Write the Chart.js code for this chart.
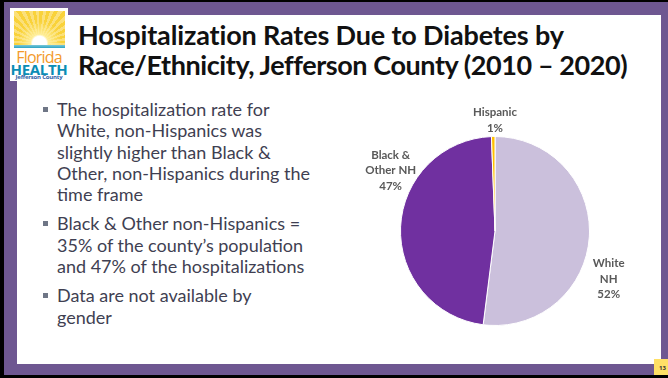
<!DOCTYPE html>
<html>
<head>
<meta charset="utf-8">
<script src="https://cdn.jsdelivr.net/npm/chart.js@4.4.0/dist/chart.umd.min.js"></script>
<style>
  html, body { margin: 0; padding: 0; }
  body { width: 668px; height: 378px; background: #000; position: relative; overflow: hidden; font-family: Lato, "Open Sans", sans-serif; }
  .frame { position: absolute; left: 4px; top: 2px; width: 664px; height: 373px; background: #6E5791; }
  .slide { position: absolute; left: 17px; top: 15px; width: 644px; height: 349px; background: #fff; }
  .logo { position: absolute; left: 10px; top: 8px; width: 58px; height: 73px; background: #fff; }
  .sun { position: absolute; left: 4px; top: 3px; width: 51px; height: 34px; overflow: hidden;
    background:
      radial-gradient(circle at 50% 95%, #fff 0 7px, rgba(255,240,160,0.9) 9px, rgba(255,220,90,0) 22px),
      repeating-conic-gradient(from 0deg at 50% 95%, #F9D23A 0 6deg, #FBE07A 6deg 12deg); }
  .sea { position: absolute; left: 4px; top: 37px; width: 51px; height: 3px; background: linear-gradient(#7CC8D8, #2AA3C4); }
  .florida { position: absolute; left: 0; width: 58px; top: 38px; text-align: center; color: #F39A2B; font: 16px "Open Sans", sans-serif; letter-spacing: -0.8px; }
  .health { position: absolute; left: 0; width: 58px; top: 51px; text-align: center; color: #0B8DB5; font: bold 15px "Liberation Sans Narrow", "Open Sans", sans-serif; letter-spacing: -0.3px; }
  .county { position: absolute; left: 0; width: 58px; top: 65px; text-align: center; color: #2E5FA6; font: bold 6px "Open Sans", sans-serif; letter-spacing: -0.2px; }
  .title { position: absolute; left: 78px; top: 20px; font: bold 27px Lato, sans-serif; line-height: 30px; color: #111; letter-spacing: -0.15px; white-space: nowrap; }
  .title span { letter-spacing: -0.42px; }
  .bullets { position: absolute; left: 57px; top: 99px; width: 290px; color: #3F3F52; font: 18px Lato, sans-serif; line-height: 21.3px; }
  .bullets p { margin: 0 0 8px 0; position: relative; white-space: nowrap; }
  .bullets p::before { content: ""; position: absolute; left: -14px; top: 8px; width: 5px; height: 5px; background: #6F7686; }
  .chart-box { position: absolute; left: 340px; top: 100px; width: 310px; height: 262px; }
  .page { position: absolute; left: 654px; top: 359px; width: 14px; height: 16px; background: #FFE066; font: bold 6px "Open Sans", sans-serif; color: #333; padding: 5px 0 0 5px; box-sizing: border-box; }
</style>
</head>
<body>
<div class="frame"></div>
<div class="slide"></div>
<div class="logo">
  <div class="sun"></div>
  <div class="sea"></div>
  <div class="florida">Florida</div>
  <div class="health">HEALTH</div>
  <div class="county">Jefferson County</div>
</div>
<div class="title">Hospitalization Rates Due to Diabetes by<br><span>Race/Ethnicity, Jefferson County (2010 – 2020)</span></div>
<div class="bullets">
  <p>The hospitalization rate for<br>White, non-Hispanics was<br>slightly higher than Black &amp;<br>Other, non-Hispanics during the<br>time frame</p>
  <p>Black &amp; Other non-Hispanics =<br>35% of the county’s population<br>and 47% of the hospitalizations</p>
  <p>Data are not available by<br>gender</p>
</div>
<div class="chart-box"><canvas id="pie"></canvas></div>
<div class="page">13</div>
<script>
  // share of hospitalizations
  var categories = [['White', 'NH'], ['Black &', 'Other NH'], ['Hispanic']];
  var shares = [52.0, 47.4, 0.6];
  var sliceColors = ['#CBC0DC', '#7030A0', '#FFC000'];

  // where each label sits: angle clockwise from 12 o'clock, distance past the rim
  var labelSpots = [
    { angle: 113, extra: 29 },
    { angle: 300, extra: 26 },
    { angle: 0, extra: 16 }
  ];

  var outsideLabels = {
    id: 'outsideLabels',
    afterDatasetsDraw: function (chart) {
      var ctx = chart.ctx;
      var meta = chart.getDatasetMeta(0);
      var data = chart.data.datasets[0].data;
      var total = data.reduce(function (a, b) { return a + b; }, 0);
      ctx.save();
      ctx.font = 'bold 11.5px Lato, sans-serif';
      ctx.fillStyle = '#595959';
      ctx.textAlign = 'center';
      ctx.textBaseline = 'middle';
      meta.data.forEach(function (arc, i) {
        var spot = labelSpots[i];
        var a = (spot.angle - 90) * Math.PI / 180;
        var r = arc.outerRadius + spot.extra;
        var x = arc.x + Math.cos(a) * r;
        var y = arc.y + Math.sin(a) * r;
        var lines = [].concat(chart.data.labels[i]);
        lines.push(Math.round(data[i] / total * 100) + '%');
        var lh = 15.5;
        var y0 = y - (lines.length - 1) * lh / 2;
        lines.forEach(function (t, j) {
          ctx.fillText(t, x, y0 + j * lh);
        });
      });
      ctx.restore();
    }
  };

  new Chart(document.getElementById('pie'), {
    type: 'pie',
    data: {
      labels: categories,
      datasets: [{
        data: shares,
        backgroundColor: sliceColors,
        borderColor: '#fff',
        borderWidth: 1
      }]
    },
    options: {
      responsive: true,
      maintainAspectRatio: false,
      animation: false,
      layout: { padding: { top: 36, bottom: 36, left: 0, right: 0 } },
      plugins: {
        legend: { display: false },
        tooltip: { enabled: false },
        title: { display: false }
      }
    },
    plugins: [outsideLabels]
  });
</script>
</body>
</html>
